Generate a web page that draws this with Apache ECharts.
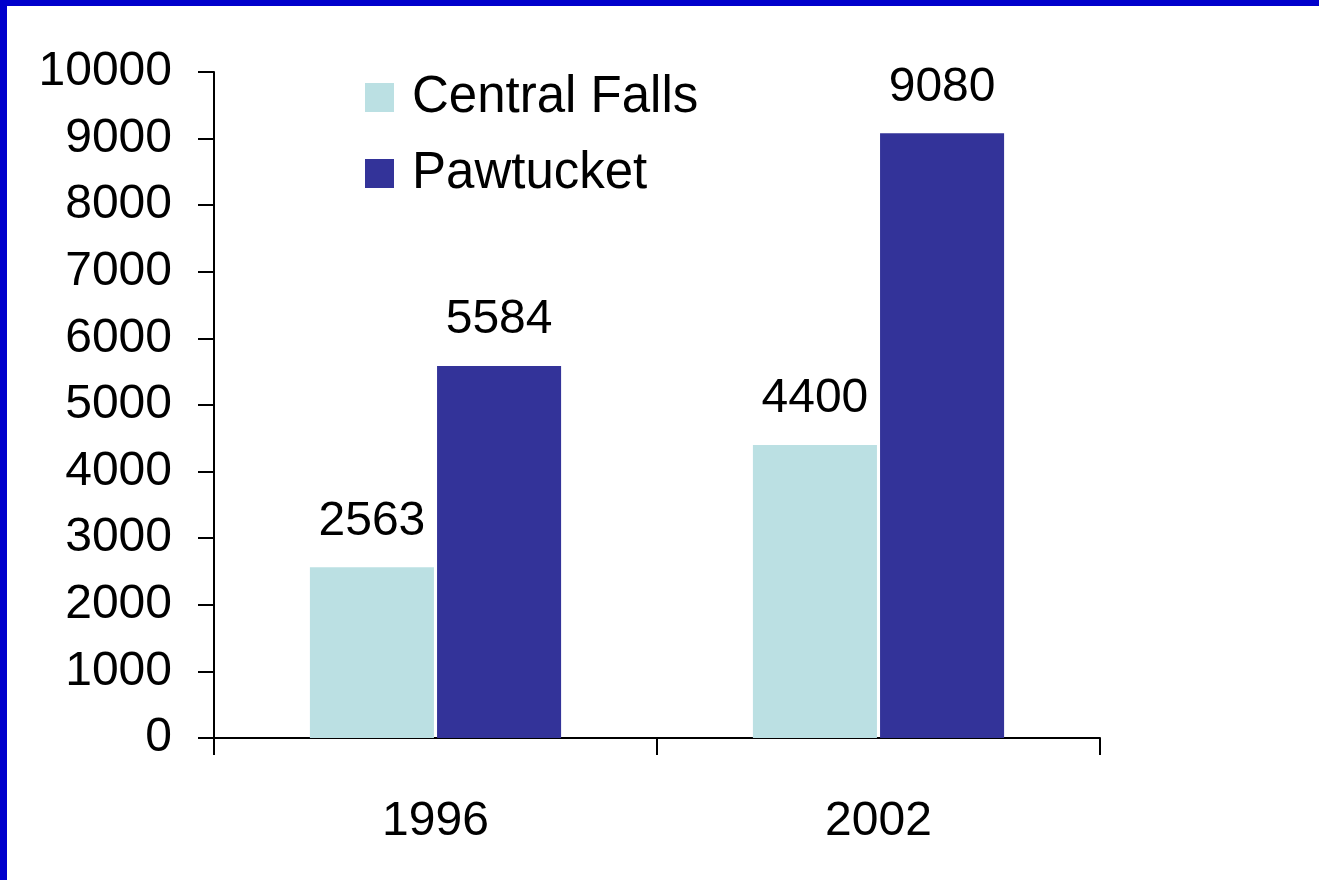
<!DOCTYPE html>
<html>
<head>
<meta charset="utf-8">
<script src="https://cdn.jsdelivr.net/npm/echarts@6/dist/echarts.min.js"></script>
<style>
  html, body { margin: 0; padding: 0; background: #fff; }
  #chart { width: 1319px; height: 880px; }
</style>
</head>
<body>
<div id="chart"></div>
<script>
  const years = ['1996', '2002']
  const centralFalls = [2563, 4400]
  const pawtucket = [5584, 9080]

  const font = 'Liberation Sans, Arial, sans-serif'
  const chart = echarts.init(document.getElementById('chart'))

  chart.setOption({
    animation: false,
    backgroundColor: '#ffffff',
    graphic: [
      { type: 'rect', left: 0, top: 0, shape: { width: 1319, height: 6 }, style: { fill: '#0000cc' } },
      { type: 'rect', left: 0, top: 0, shape: { width: 7, height: 880 }, style: { fill: '#0000cc' } }
    ],
    grid: {
      left: 214,
      right: 219,
      top: 72,
      bottom: 142
    },
    legend: {
      orient: 'vertical',
      left: 360,
      top: 67,
      itemWidth: 29,
      itemHeight: 29,
      itemGap: 25,
      icon: 'rect',
      textStyle: { fontFamily: font, fontSize: 51, color: '#000', padding: [0, 0, 0, 13] },
      data: ['Central Falls', 'Pawtucket']
    },
    xAxis: {
      type: 'category',
      data: years,
      axisLine: { lineStyle: { color: '#000', width: 2 } },
      axisTick: { show: true, length: 17, lineStyle: { color: '#000', width: 2 } },
      axisLabel: { fontFamily: font, fontSize: 48, color: '#000', margin: 60 }
    },
    yAxis: {
      type: 'value',
      min: 0,
      max: 10000,
      interval: 1000,
      splitLine: { show: false },
      axisLine: { show: true, lineStyle: { color: '#000', width: 2 } },
      axisTick: { show: true, length: 16, lineStyle: { color: '#000', width: 2 } },
      axisLabel: { fontFamily: font, fontSize: 48, color: '#000', margin: 42, formatter: v => String(v) }
    },
    series: [
      {
        name: 'Central Falls',
        type: 'bar',
        data: centralFalls,
        barWidth: '28%',
        barGap: '2.5%',
        itemStyle: { color: '#bbe0e3' },
        label: { show: true, position: 'top', distance: 22, fontFamily: font, fontSize: 48, color: '#000' }
      },
      {
        name: 'Pawtucket',
        type: 'bar',
        data: pawtucket,
        barWidth: '28%',
        itemStyle: { color: '#333399' },
        label: { show: true, position: 'top', distance: 22, fontFamily: font, fontSize: 48, color: '#000' }
      }
    ]
  })
</script>
</body>
</html>
